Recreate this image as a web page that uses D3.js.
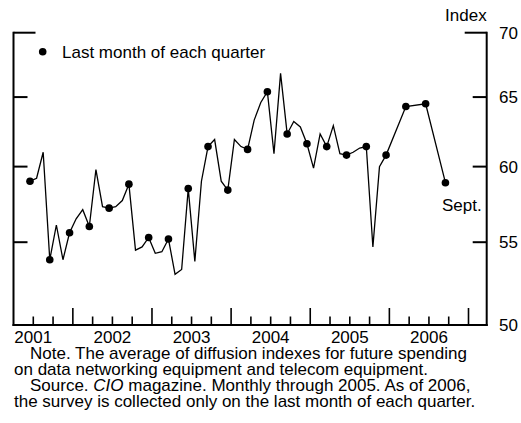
<!DOCTYPE html>
<html>
<head>
<meta charset="utf-8">
<script src="https://cdn.jsdelivr.net/npm/d3@7"></script>
<style>
  body { margin: 0; background: #fff; }
  text { font-family: "Liberation Sans", Arial, sans-serif; font-size: 17px; fill: #000; }
</style>
</head>
<body>
<div id="chart"></div>
<script>
// monthly through 2005, then last month of each quarter
var months = [
  "2001-06","2001-07","2001-08","2001-09","2001-10","2001-11","2001-12",
  "2002-01","2002-02","2002-03","2002-04","2002-05","2002-06",
  "2002-07","2002-08","2002-09","2002-10","2002-11","2002-12",
  "2003-01","2003-02","2003-03","2003-04","2003-05","2003-06",
  "2003-07","2003-08","2003-09","2003-10","2003-11","2003-12",
  "2004-01","2004-02","2004-03","2004-04","2004-05","2004-06",
  "2004-07","2004-08","2004-09","2004-10","2004-11","2004-12",
  "2005-01","2005-02","2005-03","2005-04","2005-05","2005-06",
  "2005-07","2005-08","2005-09","2005-10","2005-11","2005-12",
  "2006-03","2006-06","2006-09"
];
var indexValues = [
  59.0, 59.2, 61.0, 53.9, 56.1, 53.9, 55.6,
  56.5, 57.1, 56.0, 59.8, 57.3, 57.2,
  57.3, 57.7, 58.8, 54.5, 54.7, 55.3,
  54.3, 54.4, 55.2, 53.0, 53.3, 58.5,
  53.8, 59.0, 61.4, 61.9, 59.0, 58.4,
  61.9, 61.4, 61.2, 63.3, 64.6, 65.4,
  60.9, 66.8, 62.3, 63.2, 62.8, 61.6,
  59.9, 62.3, 61.4, 62.9, 60.9, 60.8,
  61.0, 61.3, 61.4, 54.7, 60.0, 60.8,
  64.3, 64.5, 58.9
];
var yearLabels = ["2001", "2002", "2003", "2004", "2005", "2006"];
var yTicks = [50, 55, 60, 65, 70];

(function () {
  var width = 521, height = 423;
  var left = 13.5, right = 486.7, top = 32.7, bottom = 325;

  var svg = d3.select("#chart").append("svg")
    .attr("width", width)
    .attr("height", height);

  // fractional year at mid-month
  function toYear(m) {
    var p = m.split("-");
    return +p[0] + (+p[1] - 0.5) / 12;
  }

  var data = months.map(function (m, i) {
    return { t: toYear(m), v: indexValues[i], q: (+m.split("-")[1]) % 3 === 0 };
  });

  var x = d3.scaleLinear().domain([2001.25, 2007.23]).range([left, right]);
  var y = d3.scaleLog().domain([50, 70]).range([bottom, top]);

  // quarterly ticks along the bottom, years longer
  var quarters = d3.range(2001.5, 2007.01, 0.25);
  var axisG = svg.append("g").attr("stroke", "#000");
  axisG.selectAll("line.q")
    .data(quarters)
    .enter().append("line")
    .attr("x1", function (d) { return x(d); })
    .attr("x2", function (d) { return x(d); })
    .attr("y1", bottom)
    .attr("y2", function (d) { return Math.abs(d - Math.round(d)) < 0.01 ? bottom - 17 : bottom - 8.5; })
    .attr("stroke-width", 1.6);

  // left and right value axes
  [left, right].forEach(function (ax, k) {
    var dir = k === 0 ? 1 : -1;
    axisG.selectAll(null)
      .data(yTicks.filter(function (d) { return d > 50; }))
      .enter().append("line")
      .attr("x1", ax)
      .attr("x2", function (d) { return ax + dir * (d === 70 ? 22 : 14); })
      .attr("y1", function (d) { return y(d); })
      .attr("y2", function (d) { return y(d); })
      .attr("stroke-width", 2);
    axisG.append("line")
      .attr("x1", ax).attr("x2", ax)
      .attr("y1", y(70) - 1).attr("y2", bottom + 1)
      .attr("stroke-width", 2);
  });

  axisG.append("line")
    .attr("x1", left - 1).attr("x2", right + 1)
    .attr("y1", bottom).attr("y2", bottom)
    .attr("stroke-width", 2);

  svg.selectAll("text.ytick")
    .data(yTicks)
    .enter().append("text")
    .attr("x", 499)
    .attr("y", function (d) { return y(d); })
    .attr("dy", "0.35em")
    .text(function (d) { return d; });

  svg.selectAll("text.year")
    .data(yearLabels)
    .enter().append("text")
    .attr("x", function (d) { return x(+d + 0.5); })
    .attr("y", 342.7)
    .attr("text-anchor", "middle")
    .text(function (d) { return d; });

  svg.append("text")
    .attr("x", right)
    .attr("y", 21)
    .attr("text-anchor", "end")
    .text("Index");

  var line = d3.line()
    .x(function (d) { return x(d.t); })
    .y(function (d) { return y(d.v); });

  svg.append("path")
    .datum(data)
    .attr("d", line)
    .attr("fill", "none")
    .attr("stroke", "#000")
    .attr("stroke-width", 1.3)
    .attr("stroke-linejoin", "miter");

  svg.selectAll("circle.q")
    .data(data.filter(function (d) { return d.q; }))
    .enter().append("circle")
    .attr("cx", function (d) { return x(d.t); })
    .attr("cy", function (d) { return y(d.v); })
    .attr("r", 3.8)
    .attr("fill", "#000");

  // legend
  svg.append("circle").attr("cx", 42.7).attr("cy", 51.7).attr("r", 3.8).attr("fill", "#000");
  svg.append("text").attr("x", 62).attr("y", 57.7).text("Last month of each quarter");

  var last = data[data.length - 1];
  svg.append("text")
    .attr("x", x(last.t) - 3.5)
    .attr("y", y(last.v) + 28)
    .text("Sept.");

  // notes
  var notes = svg.append("g");
  notes.append("text").attr("x", 30).attr("y", 358.5)
    .text("Note. The average of diffusion indexes for future spending");
  notes.append("text").attr("x", 14).attr("y", 374.5)
    .text("on data networking equipment and telecom equipment.");
  var src = notes.append("text").attr("x", 30).attr("y", 390.5);
  src.append("tspan").text("Source. ");
  src.append("tspan").attr("font-style", "italic").text("CIO");
  src.append("tspan").text(" magazine. Monthly through 2005. As of 2006,");
  notes.append("text").attr("x", 14).attr("y", 406.5)
    .text("the survey is collected only on the last month of each quarter.");
})();
</script>
</body>
</html>
